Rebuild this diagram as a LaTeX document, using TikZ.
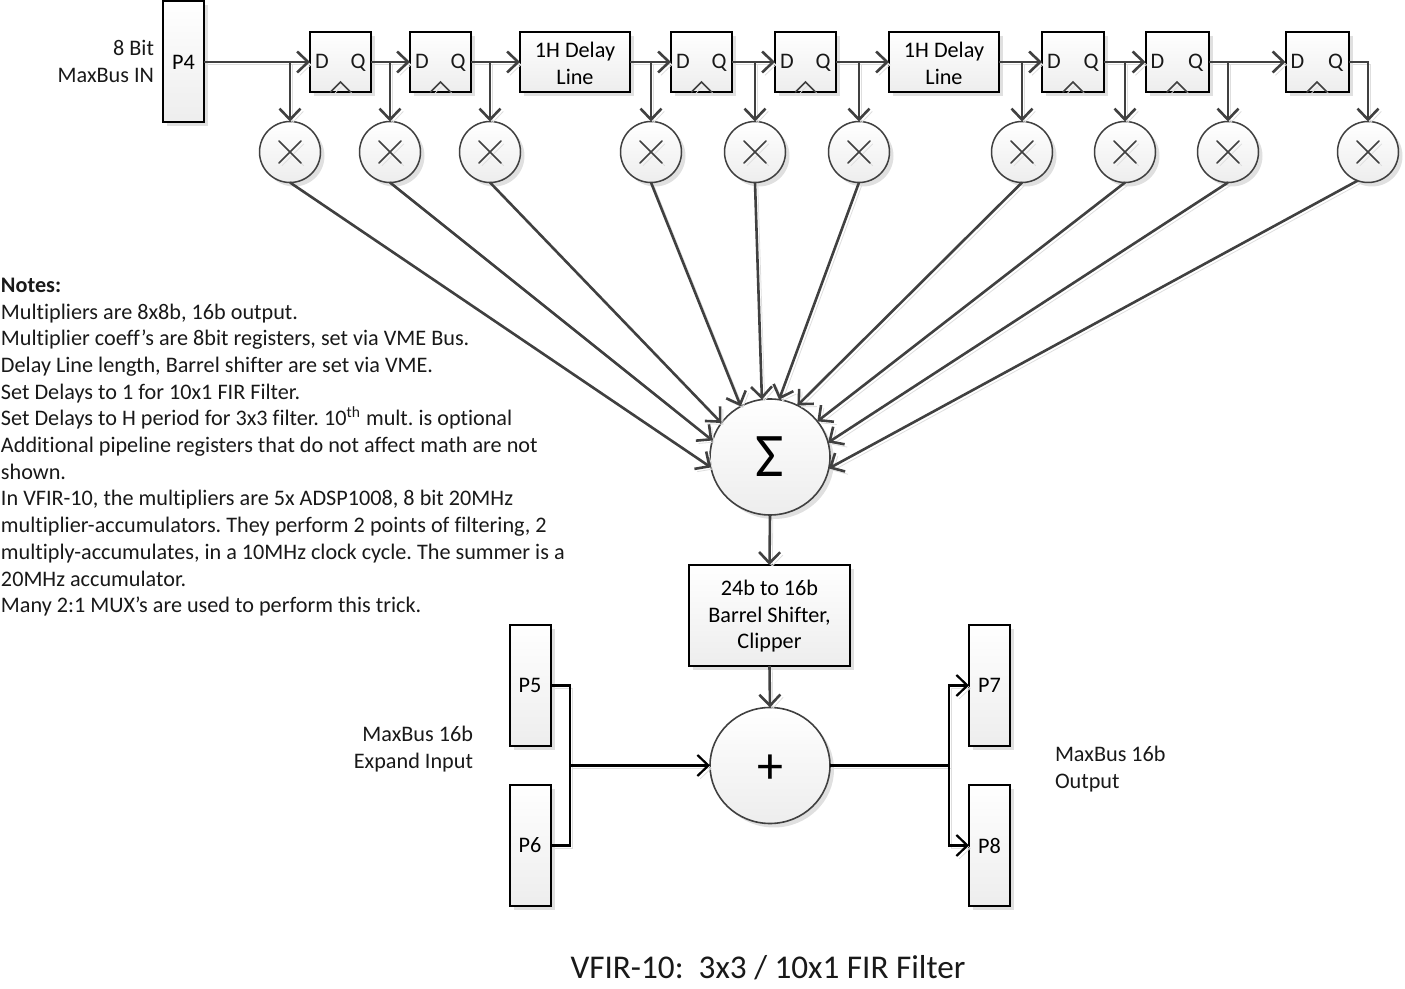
\documentclass[tikz,border=0pt]{standalone}
\usepackage{fontspec}
\setmainfont[Ligatures=NoCommon]{Carlito}
\usetikzlibrary{arrows.meta,shapes.geometric,shadows}
\definecolor{ln}{HTML}{404040}
\definecolor{shd}{HTML}{E0E0E0}
\frenchspacing
\tikzset{
  softshadow/.style={general shadow={shadow xshift=2pt,shadow yshift=-2pt,fill=shd}},
  grad/.style={top color=white,bottom color=black!7},
  box/.style={rectangle,draw=black,line width=1pt,grad,softshadow,inner sep=0pt,outer sep=0pt,align=center,font=\fontsize{11.1}{13.3}\selectfont},
  ffbox/.style={box,minimum height=30pt},
  portbox/.style={box,minimum width=20.5pt,minimum height=60.5pt},
  multnode/.style={circle,draw=ln,line width=.75pt,grad,softshadow,inner sep=0pt,outer sep=0pt,minimum size=30.5pt},
  bignode/.style={ellipse,draw=ln,line width=.8pt,grad,softshadow,inner sep=0pt,outer sep=0pt,minimum width=60pt,minimum height=58pt},
  lbl/.style={inner sep=0pt,outer sep=0pt,font=\fontsize{11.1}{13.35}\selectfont,text=black!90},
  boxlbl/.style={lbl,align=center,text=black},
  linesh/.style={preaction={draw=black!13,transform canvas={xshift=1.4pt,yshift=-1.4pt}}},
  conn/.style={draw=ln,line width=1.3pt,line join=miter,linesh,-{Straight Barb[length=5.5pt,width=10.5pt]}},
  bconn/.style={draw=black,line width=1.1pt,linesh},
  bconna/.style={bconn,-{Straight Barb[length=5.5pt,width=10.5pt]}},
  thin glyph/.style={draw=ln,line width=.8pt,line cap=round},
}
\newcommand{\ffunit}[3]{%
  \node[ffbox,minimum width=#3*0.5pt] (#1) at (#2,62) {};
  \node[lbl,anchor=base] (#1d) at ([xshift=6pt,yshift=-3.2pt]#1.west) {D};
  \node[lbl,anchor=base] (#1q) at ([xshift=-6.5pt,yshift=-3.2pt]#1.east) {Q};
  \draw[thin glyph,preaction={draw=black!13,transform canvas={xshift=1.4pt,yshift=-1.4pt}}]
    ([xshift=-5pt]#1.south) -- ([yshift=5pt]#1.south) -- ([xshift=5pt]#1.south);
}
\newcommand{\multunit}[2]{%
  \node[multnode] (#1) at (#2,152) {};
  \draw[thin glyph,preaction={draw=black!13,transform canvas={xshift=1.4pt,yshift=-1.4pt}}]
    ([xshift=-5.5pt,yshift=5.5pt]#1.center) -- ([xshift=5.5pt,yshift=-5.5pt]#1.center)
    ([xshift=-5.5pt,yshift=-5.5pt]#1.center) -- ([xshift=5.5pt,yshift=5.5pt]#1.center);
}
\begin{document}
\begin{tikzpicture}[x=0.5pt,y=-0.5pt]
\useasboundingbox (0,0) rectangle (1405,989);

% ports
\node[portbox] (p4) at (183.5,62) {P4};
\node[portbox] (p5) at (530,685.5) {P5};
\node[portbox] (p6) at (530,845.5) {P6};
\node[portbox] (p7) at (989.5,685.5) {P7};
\node[portbox] (p8) at (989.5,845.5) {P8};

% registers and delay lines
\ffunit{ff1}{340.5}{61}
\ffunit{ff2}{440.5}{61}
\node[ffbox,minimum width=55pt] (dl1) at (575,62) {};
\node[boxlbl] (dl1t) at ([yshift=-.7pt]dl1.center) {1H Delay\\Line};
\ffunit{ff3}{701.5}{61}
\ffunit{ff4}{805.5}{61}
\node[ffbox,minimum width=55pt] (dl2) at (944,62) {};
\node[boxlbl] (dl2t) at ([yshift=-.7pt]dl2.center) {1H Delay\\Line};
\ffunit{ff5}{1073}{62}
\ffunit{ff6}{1177}{63}
\ffunit{ff7}{1317}{63}

% multipliers
\multunit{m1}{290}
\multunit{m2}{390}
\multunit{m3}{490}
\multunit{m4}{651}
\multunit{m5}{755}
\multunit{m6}{859}
\multunit{m7}{1022}
\multunit{m8}{1125}
\multunit{m9}{1228}
\multunit{m10}{1368}

% summer, shifter, adder
\node[bignode,font=\fontsize{31}{31}\selectfont] (sum) at (770,457) {\char"03A3};
\node[box,minimum width=80.5pt,minimum height=50.5pt] (bar) at (769.5,615.5) {};
\node[boxlbl] (bart) at ([yshift=-.4pt]bar.center) {24b to 16b\\Barrel Shifter,\\Clipper};
\node[bignode] (add) at (770,765.5) {};
\node[lbl,font=\fontsize{26}{26}\selectfont,text=black] (addt) at ([yshift=-2pt]add.center) {+};

% top chain
\draw[conn] (p4.east) -- (ff1.west);
\draw[conn] (ff1.east) -- (ff2.west);
\draw[conn] (ff2.east) -- (dl1.west);
\draw[conn] (dl1.east) -- (ff3.west);
\draw[conn] (ff3.east) -- (ff4.west);
\draw[conn] (ff4.east) -- (dl2.west);
\draw[conn] (dl2.east) -- (ff5.west);
\draw[conn] (ff5.east) -- (ff6.west);
\draw[conn] (ff6.east) -- (ff7.west);

% taps
\foreach \m in {m1,m2,m3,m4,m5,m6,m7,m8,m9}
  \draw[conn] (\m.north |- p4.east) -- (\m.north);
\draw[conn] (ff7.east) -| (m10.north);

% to summer
\draw[conn] (m1.south) -- (sum.190);
\draw[conn] (m2.south) -- (sum.164);
\draw[conn] (m3.south) -- (sum.145);
\draw[conn] (m4.south) -- (sum.120);
\draw[conn] (m5.south) -- (sum.98);
\draw[conn] (m6.south) -- (sum.81);
\draw[conn] (m7.south) -- (sum.62);
\draw[conn] (m8.south) -- (sum.37);
\draw[conn] (m9.south) -- (sum.14);
\draw[conn] (m10.250) -- (sum.-11);

\draw[conn] (sum.south) -- (bar.north);
\draw[conn] (bar.south) -- (add.north);

% bottom buses
\coordinate (jl) at (570,765.5);
\coordinate (jr) at (949,765.5);
\draw[bconn] (p5.east) -| (jl);
\draw[bconn] (p6.east) -| (jl);
\draw[bconna] (jl) -- (add.west);
\draw[bconn] (add.east) -- (jr);
\draw[bconna] (jr) |- (p7.west);
\draw[bconna] (jr) |- (p8.west);

% texts
\node[lbl,anchor=east,align=right] (inlbl) at (154,61.5) {8 Bit\\MaxBus IN};
\node[lbl,anchor=east,align=right] (exlbl) at (473,749) {MaxBus 16b\\Expand Input};
\node[lbl,anchor=west,align=left] (outlbl) at (1055,769) {MaxBus 16b\\Output};
\node[lbl,anchor=north west,align=left] (notes) at (1,278) {\textbf{Notes:}\\
Multipliers are 8x8b, 16b output.\\
Multiplier coeff’s are 8bit registers, set via VME Bus.\\
Delay Line length, Barrel shifter are set via VME.\\
Set Delays to 1 for 10x1 FIR Filter.\\
Set Delays to H period for 3x3 filter. 10\textsuperscript{th} mult. is optional\\
Additional pipeline registers that do not affect math are not\\
shown.\\
In VFIR-10, the multipliers are 5x ADSP1008, 8 bit 20MHz\\
multiplier-accumulators. They perform 2 points of filtering, 2\\
multiply-accumulates, in a 10MHz clock cycle. The summer is a\\
20MHz accumulator.\\
Many 2:1 MUX’s are used to perform this trick.};
\node[lbl,font=\fontsize{16.6}{20}\selectfont] (title) at (768,968) {VFIR-10:\ \ 3x3 / 10x1 FIR Filter};
\end{tikzpicture}
\end{document}
